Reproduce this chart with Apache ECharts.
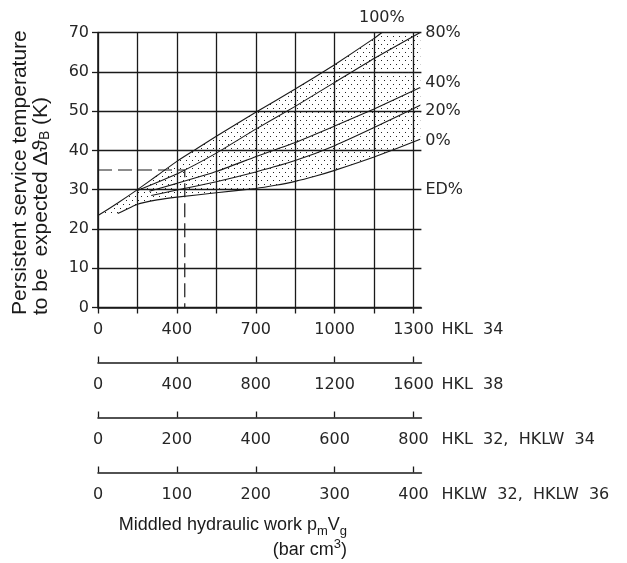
<!DOCTYPE html>
<html>
<head>
<meta charset="utf-8">
<title>Persistent service temperature</title>
<script src="https://cdn.jsdelivr.net/npm/echarts@6/dist/echarts.min.js"></script>
<style>
  html, body { margin: 0; padding: 0; background: #fff; }
  #chart { width: 627px; height: 563px; }
</style>
</head>
<body>
<div id="chart"></div>
<script>
const line100 = [[0, 23.4], [100, 26.6], [200, 30], [300, 33.6], [400, 37.2], [500, 40.4], [600, 43.6],
  [800, 49.7], [1000, 55.6], [1200, 61.8], [1400, 68.5], [1440, 70]];
const line80 = [[200, 29.8], [400, 34], [600, 39.3], [800, 45.4], [1000, 51.2], [1200, 57.3], [1400, 63.4], [1634, 70]];
const line40 = [[260, 29.6], [400, 31.6], [600, 34.6], [800, 38.4], [1000, 42], [1200, 46.2], [1400, 50.5], [1634, 56]];
const line20 = [[270, 28.5], [400, 29.9], [600, 32], [800, 34.5], [1000, 37.4], [1200, 41.2], [1400, 45.8], [1634, 51.5]];
const line0 = [[100, 23.9], [200, 26.3], [300, 27.4], [400, 28.1], [600, 29.2], [800, 30.3], [900, 31.1],
  [1000, 32.1], [1100, 33.4], [1200, 34.9], [1400, 38.3], [1634, 42.8]];
const curveEndX = 1634;

// reading example (dashed)
const exampleLine = [[0, 35], [440, 35], [440, 0]];

// axes
const mainTicks = [0, 200, 400, 600, 800, 1000, 1200, 1400, 1600];
const hkl38Ticks = [0, 400, 800, 1200, 1600];
const hkl34Labels = ['0', '400', '700', '1000', '1300'];
const hkl32Ticks = [0, 200, 400, 600, 800];
const hklw32Ticks = [0, 100, 200, 300, 400];
const edLevel = 30;

const ink = '#1a1a1a';
const numFont = { fontFamily: 'DejaVu Sans', fontSize: 16, color: '#262626' };
const titleFont = 'Liberation Sans, Arial, sans-serif';

// dot pattern for the band
const dots = document.createElement('canvas');
dots.width = 6;
dots.height = 8;
const dctx = dots.getContext('2d');
dctx.fillStyle = '#222';
dctx.fillRect(0, 0, 1, 1);
dctx.fillRect(3, 4, 1, 1);

function bottomAxis(max, ticks, name, offset) {
  return {
    type: 'value', position: 'bottom', offset: offset, min: 0, max: max,
    name: name, nameLocation: 'end', nameGap: 20,
    nameTextStyle: Object.assign({}, numFont, { verticalAlign: 'top', padding: [14, 0, 0, 0] }),
    axisLine: { show: true, onZero: false, lineStyle: { color: ink, width: 1.6 } },
    axisTick: { show: true, inside: true, length: 6, customValues: ticks, lineStyle: { color: ink, width: 1.3 } },
    axisLabel: Object.assign({}, numFont, { customValues: ticks, margin: 14, formatter: (v) => String(v) }),
    splitLine: { show: false }
  };
}

function curve(name, data, label, offset) {
  return {
    type: 'line', name: name, data: data, symbol: 'none', silent: true, z: 3,
    smooth: 0.15,
    lineStyle: { color: ink, width: 1.1 },
    endLabel: Object.assign({}, numFont, { show: true, formatter: label, offset: offset, distance: 5 })
  };
}

const option = {
  animation: false,
  backgroundColor: '#fff',
  grid: { left: 98, top: 32.5, width: 323.4, height: 275, containLabel: false, outerBoundsMode: 'none' },
  xAxis: [
    {
      type: 'value', min: 0, max: 1640,
      name: 'HKL  34', nameLocation: 'end', nameGap: 20,
      nameTextStyle: Object.assign({}, numFont, { verticalAlign: 'top', padding: [14, 0, 0, 0] }),
      axisLine: { show: true, lineStyle: { color: ink, width: 1.6 } },
      axisTick: { show: true, length: 6, customValues: mainTicks, lineStyle: { color: ink, width: 1.3 } },
      axisLabel: Object.assign({}, numFont, {
        customValues: hkl38Ticks, margin: 14,
        formatter: (v) => hkl34Labels[hkl38Ticks.indexOf(v)]
      }),
      splitLine: { show: true, lineStyle: { color: ink, width: 1.3 } }
    },
    bottomAxis(1640, hkl38Ticks, 'HKL  38', 55),
    bottomAxis(820, hkl32Ticks, 'HKL  32,  HKLW  34', 110),
    bottomAxis(410, hklw32Ticks, 'HKLW  32,  HKLW  36', 165)
  ],
  yAxis: [
    {
      type: 'value', min: 0, max: 70, interval: 10,
      axisLine: { show: true, lineStyle: { color: ink, width: 1.6 } },
      axisTick: { show: true, length: 6, lineStyle: { color: ink, width: 1.3 } },
      axisLabel: Object.assign({}, numFont, { margin: 9 }),
      splitLine: { show: true, lineStyle: { color: ink, width: 1.3 } }
    },
    {
      type: 'value', position: 'right', min: 0, max: 70,
      axisLine: { show: false }, axisTick: { show: false }, splitLine: { show: false },
      axisLabel: Object.assign({}, numFont, { customValues: [edLevel], margin: 4, formatter: () => 'ED%' })
    }
  ],
  graphic: [
    {
      type: 'text', x: 10, y: 315, rotation: Math.PI / 2, silent: true,
      style: {
        text: '{t|Persistent service temperature}\n{t|to be  expected Δϑ}{s|B}{t| (K)}',
        align: 'left', verticalAlign: 'top',
        rich: {
          t: { fontFamily: titleFont, fontSize: 21, lineHeight: 21, fill: ink },
          s: { fontFamily: titleFont, fontSize: 14, lineHeight: 12, verticalAlign: 'bottom', fill: ink }
        }
      }
    },
    {
      type: 'text', x: 347, y: 513, silent: true,
      style: {
        text: '{t|Middled hydraulic work p}{s|m}{t|V}{s|g}\n{t|(bar cm}{u|3}{t|)}',
        align: 'right', verticalAlign: 'top',
        rich: {
          t: { fontFamily: titleFont, fontSize: 18, lineHeight: 25, fill: ink },
          s: { fontFamily: titleFont, fontSize: 13, lineHeight: 14, verticalAlign: 'bottom', fill: ink },
          u: { fontFamily: titleFont, fontSize: 13, lineHeight: 14, verticalAlign: 'top', fill: ink }
        }
      }
    }
  ],
  series: [
    {
      type: 'custom', name: 'band', silent: true, z: 1,
      data: [[0, 0]],
      renderItem: (params, api) => {
        const outline = line100.concat([[curveEndX, 70]], line0.slice().reverse());
        return {
          type: 'polygon',
          shape: { points: outline.map((p) => api.coord(p)) },
          style: { fill: { image: dots, repeat: 'repeat' }, stroke: null }
        };
      }
    },
    curve('100%', line100, '100%', [-28, -14.5]),
    curve('80%', line80, '80%', [0, 0]),
    curve('40%', line40, '40%', [0, -5]),
    curve('20%', line20, '20%', [0, 6]),
    curve('0%', line0, '0%', [0, 1.5]),
    {
      type: 'line', name: 'example', data: exampleLine, symbol: 'none', silent: true, z: 3,
      lineStyle: { color: ink, width: 1.2, type: [14, 6] }
    }
  ]
};

const myChart = echarts.init(document.getElementById('chart'));
myChart.setOption(option);

window.addEventListener('resize', () => {
  myChart.resize();
});
</script>
</body>
</html>
